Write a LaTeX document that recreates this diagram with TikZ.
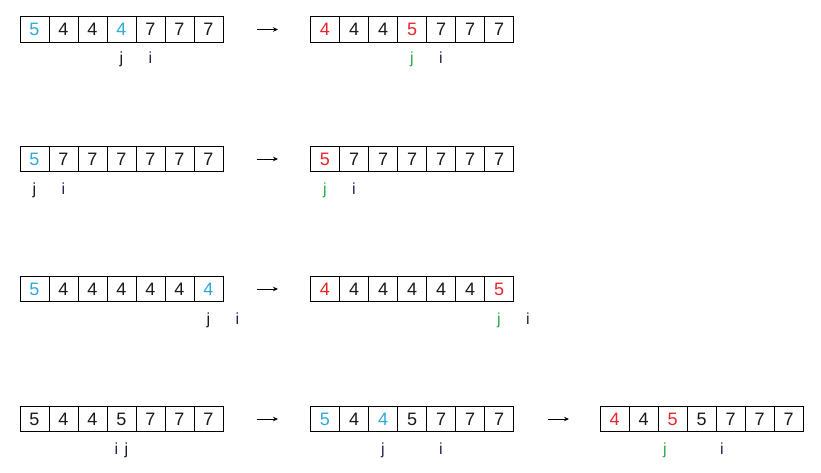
\documentclass[tikz,border=0pt]{standalone}
\usepackage{fontspec}
\setmainfont{Liberation Sans}
\usetikzlibrary{arrows.meta}
\definecolor{cy}{HTML}{2FA9D9}
\definecolor{rd}{HTML}{E5262B}
\definecolor{gr}{HTML}{27A94A}
\definecolor{bk}{HTML}{1A1A1A}
\definecolor{iv}{HTML}{2E1E4C}
\tikzset{
  cell/.style={draw=black, line width=0.9pt, minimum width=29pt, minimum height=25.5pt, inner sep=0pt, font=\fontsize{18}{18}\selectfont},
  lab/.style={anchor=base, inner sep=0pt, font=\fontsize{16}{16}\selectfont},
  arr/.style={line width=0.9pt, -{Stealth[length=5pt,width=4.5pt]}}
}
% \myarray{name}{x0}{yc}{digit/color list}
\newcommand{\myarray}[4]{%
  \foreach \d/\c [count=\k from 0] in {#4} {
    \node[cell, text=\c] (#1-\k) at ({#2+14.5+29*\k},#3) {\d};
  }%
}
\begin{document}
\begin{tikzpicture}[x=1pt,y=-1pt]
\useasboundingbox (0,0) rectangle (821,473);
\fill[white] (0,0) rectangle (821,473);

% Row 1
\myarray{ra}{20}{29.5}{5/cy,4/bk,4/bk,4/cy,7/bk,7/bk,7/bk}
\myarray{rb}{310.5}{29.5}{4/rd,4/bk,4/bk,5/rd,7/bk,7/bk,7/bk}
\node[lab, text=bk] (ra-j) at (121.5,64) {j};
\node[lab, text=iv] (ra-i) at (150.5,64) {i};
\node[lab, text=gr] (rb-j) at (412,64) {j};
\node[lab, text=iv] (rb-i) at (441,64) {i};
\coordinate (r1a) at (257,29.5);
\coordinate (r1b) at (278,29.5);
\draw[arr] (r1a) -- (r1b);

% Row 2
\myarray{sa}{20}{159}{5/cy,7/bk,7/bk,7/bk,7/bk,7/bk,7/bk}
\myarray{sb}{310.5}{159}{5/rd,7/bk,7/bk,7/bk,7/bk,7/bk,7/bk}
\node[lab, text=bk] (sa-j) at (34.5,194) {j};
\node[lab, text=iv] (sa-i) at (63.5,194) {i};
\node[lab, text=gr] (sb-j) at (325,194) {j};
\node[lab, text=iv] (sb-i) at (354,194) {i};
\coordinate (r2a) at (257,159);
\coordinate (r2b) at (278,159);
\draw[arr] (r2a) -- (r2b);

% Row 3
\myarray{ta}{20}{289}{5/cy,4/bk,4/bk,4/bk,4/bk,4/bk,4/cy}
\myarray{tb}{310.5}{289}{4/rd,4/bk,4/bk,4/bk,4/bk,4/bk,5/rd}
\node[lab, text=bk] (ta-j) at (208.5,324) {j};
\node[lab, text=iv] (ta-i) at (237.5,324) {i};
\node[lab, text=gr] (tb-j) at (499,324) {j};
\node[lab, text=iv] (tb-i) at (528,324) {i};
\coordinate (r3a) at (257,289);
\coordinate (r3b) at (278,289);
\draw[arr] (r3a) -- (r3b);

% Row 4
\myarray{ua}{20}{419}{5/bk,4/bk,4/bk,5/bk,7/bk,7/bk,7/bk}
\myarray{ub}{310.5}{419}{5/cy,4/bk,4/cy,5/bk,7/bk,7/bk,7/bk}
\myarray{uc}{600}{419}{4/rd,4/bk,5/rd,5/bk,7/bk,7/bk,7/bk}
\node[lab, text=iv] (ua-i) at (116.5,454) {i};
\node[lab, text=bk] (ua-j) at (126.5,454) {j};
\node[lab, text=iv] (ub-j) at (383,454) {j};
\node[lab, text=iv] (ub-i) at (441,454) {i};
\node[lab, text=gr] (uc-j) at (665,454) {j};
\node[lab, text=iv] (uc-i) at (722,454) {i};
\coordinate (r4a) at (257,419);
\coordinate (r4b) at (278,419);
\draw[arr] (r4a) -- (r4b);
\coordinate (r4c) at (548,419);
\coordinate (r4d) at (569,419);
\draw[arr] (r4c) -- (r4d);
\end{tikzpicture}
\end{document}
